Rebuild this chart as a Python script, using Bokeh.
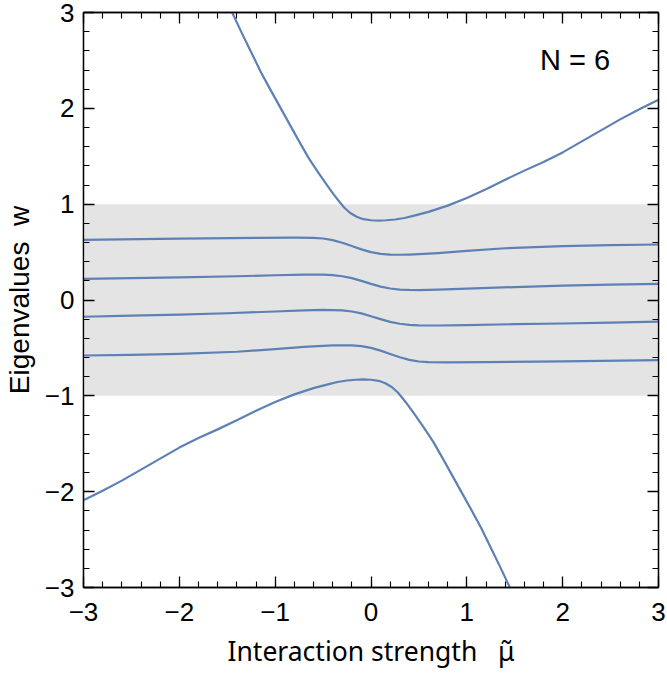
from bokeh.plotting import figure
from bokeh.models import LinearAxis, SingleIntervalTicker, BoxAnnotation, Label, Range1d
from bokeh.embed import file_html
from bokeh.resources import INLINE

# Eigenvalue branches w(mu) for N = 6, sampled along each curve
upper_x = [-1.449, -1.35, -1.25, -1.15, -1.05, -0.95, -0.85, -0.75, -0.65, -0.55,
           -0.45, -0.388, -0.33, -0.28, -0.22, -0.15, -0.08, 0.0, 0.08, 0.16, 0.25,
           0.35, 0.45, 0.6, 0.8, 1.0, 1.2, 1.4, 1.6, 1.8, 2.0, 2.2, 2.4, 2.6, 2.8, 3.0]
upper_w = [3.0, 2.79, 2.585, 2.38, 2.195, 2.015, 1.835, 1.655, 1.48, 1.33,
           1.185, 1.10, 1.025, 0.965, 0.91, 0.868, 0.843, 0.832, 0.829, 0.832, 0.840,
           0.856, 0.880, 0.92, 0.985, 1.065, 1.155, 1.255, 1.35, 1.44, 1.54, 1.655,
           1.77, 1.885, 1.99, 2.09]

band1_x = [-3.0, -2.0, -1.2, -0.8, -0.6, -0.5, -0.4, -0.3, -0.2, -0.1, 0.0, 0.1,
           0.2, 0.3, 0.4, 0.5, 0.7, 1.0, 1.4, 2.0, 2.5, 3.0]
band1_w = [0.628, 0.641, 0.648, 0.650, 0.649, 0.642, 0.625, 0.598, 0.563, 0.528,
           0.500, 0.482, 0.474, 0.472, 0.474, 0.478, 0.490, 0.512, 0.540, 0.563,
           0.573, 0.579]

band2_x = [-3.0, -2.0, -1.4, -1.0, -0.7, -0.5, -0.4, -0.3, -0.2, -0.1, 0.0, 0.1,
           0.2, 0.3, 0.4, 0.5, 0.7, 1.0, 1.5, 2.0, 2.5, 3.0]
band2_w = [0.221, 0.236, 0.248, 0.258, 0.265, 0.265, 0.260, 0.248, 0.228, 0.199,
           0.168, 0.140, 0.120, 0.109, 0.105, 0.104, 0.108, 0.118, 0.135, 0.150,
           0.160, 0.169]

band3_x = [-3.0, -2.5, -2.0, -1.5, -1.0, -0.7, -0.5, -0.4, -0.3, -0.2, -0.1, 0.0,
           0.1, 0.2, 0.3, 0.4, 0.5, 0.7, 1.0, 1.5, 2.0, 2.5, 3.0]
band3_w = [-0.175, -0.163, -0.152, -0.138, -0.120, -0.108, -0.104, -0.105, -0.109,
           -0.120, -0.140, -0.170, -0.199, -0.228, -0.248, -0.260, -0.265, -0.266,
           -0.262, -0.252, -0.245, -0.236, -0.226]

band4_x = [-3.0, -2.5, -2.0, -1.4, -1.0, -0.7, -0.5, -0.4, -0.3, -0.2, -0.1, 0.0,
           0.1, 0.2, 0.3, 0.4, 0.5, 0.6, 0.8, 1.2, 2.0, 3.0]
band4_w = [-0.579, -0.573, -0.563, -0.540, -0.512, -0.490, -0.478, -0.474, -0.472,
           -0.474, -0.482, -0.500, -0.528, -0.563, -0.598, -0.625, -0.642, -0.649,
           -0.650, -0.648, -0.641, -0.628]

lower_x = [-3.0, -2.8, -2.6, -2.4, -2.2, -2.0, -1.8, -1.6, -1.4, -1.2, -1.0, -0.8,
           -0.6, -0.45, -0.35, -0.25, -0.16, -0.08, 0.0, 0.08, 0.15, 0.22, 0.28,
           0.33, 0.388, 0.45, 0.55, 0.65, 0.75, 0.85, 0.95, 1.05, 1.15, 1.25, 1.35,
           1.449]
lower_w = [-2.09, -1.99, -1.885, -1.77, -1.655, -1.54, -1.44, -1.35, -1.255, -1.155,
           -1.065, -0.985, -0.92, -0.880, -0.856, -0.840, -0.832, -0.829, -0.832,
           -0.843, -0.868, -0.91, -0.965, -1.025, -1.10, -1.185, -1.33, -1.48, -1.655,
           -1.835, -2.015, -2.195, -2.38, -2.585, -2.79, -3.0]

branches = [(upper_x, upper_w), (band1_x, band1_w), (band2_x, band2_w),
            (band3_x, band3_w), (band4_x, band4_w), (lower_x, lower_w)]

band_low, band_high = -1.0, 1.0
n_sites = 6

LINE = "#5E81B5"
FONT = "Liberation Sans"
NBSP = "\u00a0"
MINUS = {-3: "\u22123", -2: "\u22122", -1: "\u22121"}

p = figure(width=667, height=675, output_backend="svg", toolbar_location=None,
           x_range=Range1d(-3, 3), y_range=Range1d(-3, 3),
           min_border_left=83, min_border_right=9, min_border_top=12,
           min_border_bottom=88, x_axis_location=None, y_axis_location=None)
p.grid.visible = False
p.outline_line_color = "black"
p.outline_line_width = 1.3
p.background_fill_color = "white"
p.border_fill_color = "white"

# shaded continuum band |w| < 1
p.add_layout(BoxAnnotation(bottom=band_low, top=band_high, fill_color="#e4e4e4",
                           fill_alpha=1.0, line_color=None, level="underlay"))

for xs, ws in branches:
    p.line(xs, ws, line_color=LINE, line_width=2.2, line_join="round")


def make_axis(labelled):
    ax = LinearAxis(ticker=SingleIntervalTicker(interval=1, num_minor_ticks=5))
    ax.axis_line_color = "black"
    ax.axis_line_width = 1.3
    ax.major_tick_in = 11
    ax.major_tick_out = 0
    ax.minor_tick_in = 6
    ax.minor_tick_out = 0
    ax.major_tick_line_color = "black"
    ax.minor_tick_line_color = "black"
    ax.major_tick_line_width = 1.3
    ax.minor_tick_line_width = 1.1
    if labelled:
        ax.major_label_text_font = FONT
        ax.major_label_text_font_size = "26px"
        ax.major_label_text_color = "black"
        ax.major_label_overrides = MINUS
        ax.axis_label_text_font = FONT
        ax.axis_label_text_font_size = "28px"
        ax.axis_label_text_font_style = "normal"
        ax.axis_label_text_color = "black"
    else:
        ax.major_label_text_font_size = "0px"
        ax.major_label_standoff = 0
    return ax


xb = make_axis(True)
xb.major_label_standoff = 15
xb.axis_label = "Interaction strength" + NBSP * 3 + "\u03bc\u0303"
xb.axis_label_text_font = "Noto Sans"
xb.axis_label_text_font_size = "26.5px"
xb.axis_label_standoff = 9
p.add_layout(xb, "below")

yl = make_axis(True)
yl.major_label_standoff = 9
yl.axis_label = "Eigenvalues" + NBSP * 2 + "w"
yl.axis_label_standoff = 7
p.add_layout(yl, "left")

p.add_layout(make_axis(False), "above")
p.add_layout(make_axis(False), "right")

p.add_layout(Label(x=2.13, y=2.5, text=f"N = {n_sites}", text_font=FONT,
                   text_font_size="29px", text_align="center",
                   text_baseline="alphabetic", text_color="black"))

open("out.html", "w").write(file_html(p, INLINE))
